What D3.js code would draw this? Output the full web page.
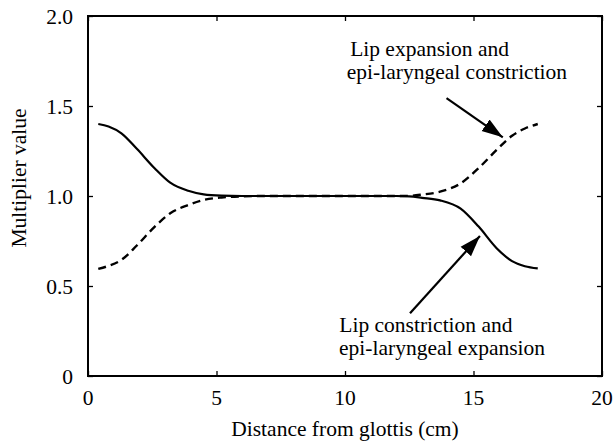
<!DOCTYPE html>
<html>
<head>
<meta charset="utf-8">
<script src="https://cdn.jsdelivr.net/npm/d3@7"></script>
<style>
  html, body { margin: 0; padding: 0; background: #fff; }
</style>
</head>
<body>
<svg id="chart" width="615" height="441"></svg>
<script>
// Distance along the vocal tract (cm) at which the multipliers are sampled
const distance = [0.4, 0.8, 1.3, 1.9, 2.6, 3.2, 3.9, 4.5, 5.2, 6, 7, 8, 9, 10, 11, 12, 12.5, 13, 13.7, 14.5, 15.2, 15.9, 16.5, 17, 17.5];
// Lip constriction / epi-laryngeal expansion (solid)
const lipConstriction = [1.40, 1.386, 1.348, 1.262, 1.153, 1.074, 1.029, 1.009, 1.002, 1.0, 1.0, 1.0, 1.0, 1.0, 1.0, 1.0, 0.998, 0.99, 0.976, 0.93, 0.83, 0.71, 0.638, 0.61, 0.598];
// Lip expansion / epi-laryngeal constriction (dashed)
const lipExpansion = [0.595, 0.612, 0.645, 0.725, 0.83, 0.904, 0.95, 0.978, 0.992, 0.998, 1.0, 1.0, 1.0, 1.0, 1.0, 1.0, 1.001, 1.008, 1.024, 1.07, 1.155, 1.256, 1.335, 1.375, 1.40];

const xTicks = [0, 5, 10, 15, 20];
const yTicks = [0, 0.5, 1.0, 1.5, 2.0];
const yTickLabels = ["0", "0.5", "1.0", "1.5", "2.0"];

// Annotation text lines (data coordinates: x start, baseline y)
const noteExpansion = [
  { text: "Lip expansion and", x: 10.2, y: 1.78 },
  { text: "epi-laryngeal constriction", x: 10.07, y: 1.648 }
];
const noteConstriction = [
  { text: "Lip constriction and", x: 9.78, y: 0.246 },
  { text: "epi-laryngeal expansion", x: 9.77, y: 0.116 }
];
// Arrows: from tail to tip, data coordinates
const arrows = [
  { x1: 13.95, y1: 1.544, x2: 16.14, y2: 1.326 },
  { x1: 12.53, y1: 0.348, x2: 15.25, y2: 0.778 }
];

const W = 615, H = 441;
const margin = { top: 16, right: 13, bottom: 65, left: 88 };
const iw = W - margin.left - margin.right;
const ih = H - margin.top - margin.bottom;
const FONT = "'Liberation Serif'";
const fontSize = 21.5;

const svg = d3.select("#chart");
const g = svg.append("g").attr("transform", `translate(${margin.left},${margin.top})`);

const x = d3.scaleLinear().domain([0, 20]).range([0, iw]);
const y = d3.scaleLinear().domain([0, 2]).range([ih, 0]);

// Inward ticks on all four sides
function styleAxis(sel) {
  sel.select(".domain").remove();
  sel.selectAll(".tick line").attr("stroke", "#000").attr("stroke-width", 1.3);
}
g.append("g").attr("transform", `translate(0,${ih})`)
  .call(d3.axisBottom(x).tickValues(xTicks).tickSize(-5).tickFormat(""))
  .call(styleAxis);
g.append("g")
  .call(d3.axisTop(x).tickValues(xTicks).tickSize(-5).tickFormat(""))
  .call(styleAxis);
g.append("g")
  .call(d3.axisLeft(y).tickValues(yTicks).tickSize(-5).tickFormat(""))
  .call(styleAxis);
g.append("g").attr("transform", `translate(${iw},0)`)
  .call(d3.axisRight(y).tickValues(yTicks).tickSize(-5).tickFormat(""))
  .call(styleAxis);

// Frame
g.append("rect")
  .attr("x", 0).attr("y", 0).attr("width", iw).attr("height", ih)
  .attr("fill", "none").attr("stroke", "#000").attr("stroke-width", 2);

function label(sel) {
  sel.style("font-family", FONT).attr("font-size", fontSize).attr("fill", "#000");
}

// Tick labels
g.selectAll(".xlab").data(xTicks).join("text")
  .attr("x", d => x(d)).attr("y", ih + 29)
  .attr("text-anchor", "middle")
  .call(label)
  .text(d => d);
g.selectAll(".ylab").data(yTicks).join("text")
  .attr("x", -15).attr("y", d => y(d) + 7.5)
  .attr("text-anchor", "end")
  .call(label)
  .text((d, i) => yTickLabels[i]);

// Axis titles
svg.append("text")
  .attr("x", margin.left + iw / 2).attr("y", 436)
  .attr("text-anchor", "middle")
  .call(label)
  .text("Distance from glottis (cm)");
svg.append("text")
  .attr("transform", `translate(26,${margin.top + y(1.1)}) rotate(-90)`)
  .attr("text-anchor", "middle")
  .call(label)
  .text("Multiplier value");

// Curves
const line = d3.line().curve(d3.curveMonotoneX)
  .x(d => x(d[0])).y(d => y(d[1]));

g.append("path")
  .datum(distance.map((d, i) => [d, lipConstriction[i]]))
  .attr("d", line).attr("fill", "none")
  .attr("stroke", "#000").attr("stroke-width", 2.2);

g.append("path")
  .datum(distance.map((d, i) => [d, lipExpansion[i]]))
  .attr("d", line).attr("fill", "none")
  .attr("stroke", "#000").attr("stroke-width", 2.4)
  .attr("stroke-dasharray", "8,5");

// Arrowhead marker
svg.append("defs").append("marker")
  .attr("id", "head").attr("markerUnits", "userSpaceOnUse")
  .attr("viewBox", "0 -8 22 16")
  .attr("markerWidth", 22).attr("markerHeight", 16)
  .attr("refX", 21).attr("refY", 0).attr("orient", "auto")
  .append("path").attr("d", "M0,-7L21,0L0,7Z").attr("fill", "#000");

g.selectAll(".arrow").data(arrows).join("line")
  .attr("x1", d => x(d.x1)).attr("y1", d => y(d.y1))
  .attr("x2", d => x(d.x2)).attr("y2", d => y(d.y2))
  .attr("stroke", "#000").attr("stroke-width", 2.2)
  .attr("marker-end", "url(#head)");

// Annotations
g.selectAll(".note").data(noteExpansion.concat(noteConstriction)).join("text")
  .attr("x", d => x(d.x)).attr("y", d => y(d.y))
  .call(label)
  .text(d => d.text);
</script>
</body>
</html>
